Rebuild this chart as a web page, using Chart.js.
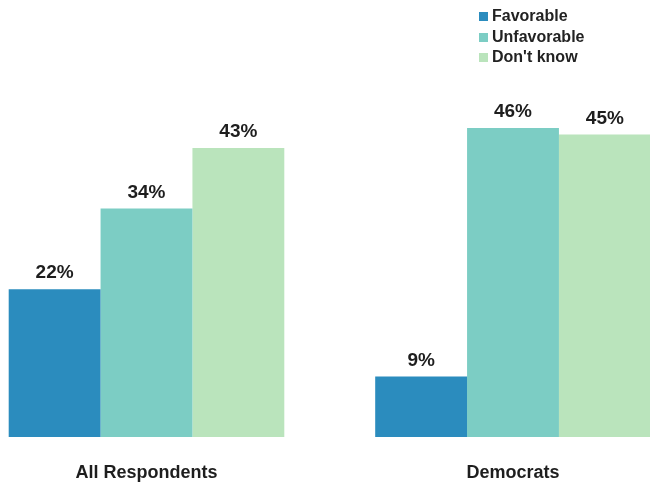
<!DOCTYPE html>
<html>
<head>
<meta charset="utf-8">
<title>Favorability</title>
<script src="https://cdn.jsdelivr.net/npm/chart.js@4/dist/chart.umd.min.js"></script>
<style>
  html, body { margin: 0; padding: 0; background: #fff; }
  #wrap { position: relative; width: 650px; height: 485px; overflow: hidden; }
  #legend {
    position: absolute; left: 479px; top: 6px;
    font: bold 16px "Liberation Sans", Arial, sans-serif; color: #222;
  }
  #legend div { height: 20.5px; line-height: 20.5px; white-space: nowrap; }
  #legend span { display: inline-block; width: 9px; height: 9px; margin-right: 4px; vertical-align: 0px; }
</style>
</head>
<body>
<div id="wrap">
  <canvas id="myChart" width="650" height="485"></canvas>
  <div id="legend"></div>
</div>
<script>
/* data */
const groups = ['All Respondents', 'Democrats'];
const seriesNames = ['Favorable', 'Unfavorable', "Don't know"];
const favorable = [22, 9];
const unfavorable = [34, 46];
const dontKnow = [43, 45];
const colors = ['#2b8cbe', '#7ccdc4', '#bae4bc'];

const font = '"Liberation Sans", Arial, sans-serif';

/* legend */
const legend = document.getElementById('legend');
seriesNames.forEach(function (name, i) {
  const row = document.createElement('div');
  const box = document.createElement('span');
  box.style.background = colors[i];
  row.appendChild(box);
  row.appendChild(document.createTextNode(name));
  legend.appendChild(row);
});

// percentage text above each bar
const valueLabels = {
  id: 'valueLabels',
  afterDatasetsDraw(chart) {
    const ctx = chart.ctx;
    ctx.save();
    ctx.font = 'bold 19px ' + font;
    ctx.fillStyle = '#1e1e1e';
    ctx.textAlign = 'center';
    ctx.textBaseline = 'alphabetic';
    chart.data.datasets.forEach(function (ds, i) {
      chart.getDatasetMeta(i).data.forEach(function (bar, j) {
        ctx.fillText(ds.data[j] + '%', bar.x, bar.y - 11);
      });
    });
    ctx.restore();
  }
};

const ctx = document.getElementById('myChart').getContext('2d');

const chart = new Chart(ctx, {
  type: 'bar',
  data: {
    labels: groups,
    datasets: [
      { label: seriesNames[0], data: favorable, backgroundColor: colors[0] },
      { label: seriesNames[1], data: unfavorable, backgroundColor: colors[1] },
      { label: seriesNames[2], data: dontKnow, backgroundColor: colors[2] }
    ]
  },
  options: {
    responsive: false,
    animation: false,
    events: [],
    layout: { padding: { left: 146.5, right: 137, top: 101, bottom: 0 } },
    datasets: {
      bar: { categoryPercentage: 0.752, barPercentage: 1, clip: false, borderWidth: 0 }
    },
    scales: {
      x: {
        offset: false,
        grid: { display: false, drawTicks: false },
        border: { display: false },
        ticks: { padding: 25, color: '#1e1e1e', font: { family: font, size: 18, weight: 'bold' } },
        afterFit: function (scale) { scale.height = 48; }
      },
      y: {
        display: false,
        min: 0,
        max: 50
      }
    },
    plugins: {
      legend: { display: false },
      tooltip: { enabled: false }
    }
  },
  plugins: [valueLabels]
});
</script>
</body>
</html>
